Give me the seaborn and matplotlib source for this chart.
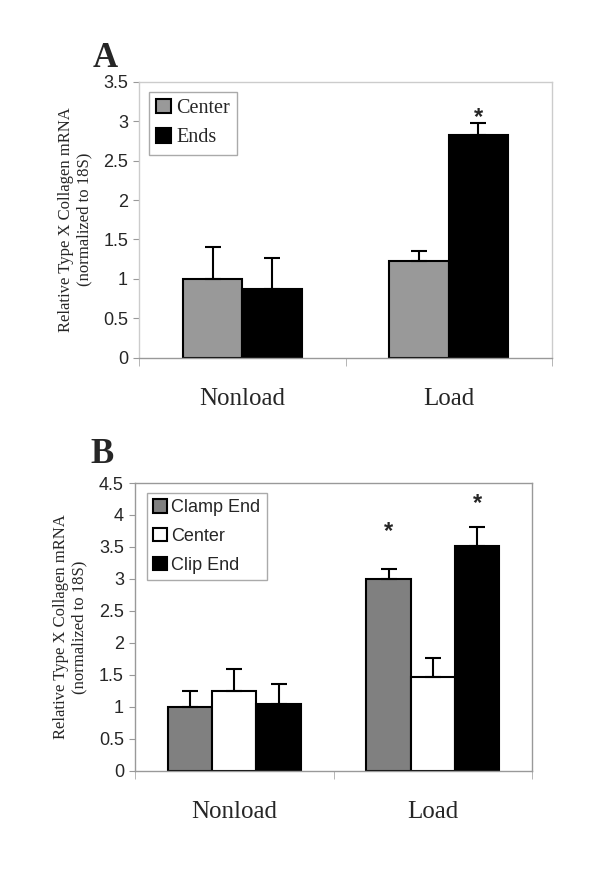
import matplotlib
matplotlib.use("Agg")
import matplotlib.pyplot as plt
import matplotlib.ticker as mticker
import pandas as pd
import seaborn as sns

sns.set_style("white")
plt.rcParams["font.family"] = ["Liberation Sans", "DejaVu Sans"]

# ---- data ----
groups = ["Nonload", "Load"]

a_series = ["Center", "Ends"]
a_means = {"Center": [1.00, 1.23], "Ends": [0.87, 2.82]}
a_errs = {"Center": [0.40, 0.13], "Ends": [0.40, 0.16]}
a_colors = ["#999999", "#000000"]
# height (data units) of the significance star, None = no star
a_stars = {"Ends": [None, 3.13]}

b_series = ["Clamp End", "Center", "Clip End"]
b_means = {"Clamp End": [1.00, 3.00], "Center": [1.25, 1.47], "Clip End": [1.04, 3.52]}
b_errs = {"Clamp End": [0.25, 0.16], "Center": [0.34, 0.29], "Clip End": [0.32, 0.30]}
b_colors = ["#808080", "#ffffff", "#000000"]
b_stars = {"Clamp End": [None, 3.85], "Clip End": [None, 4.28]}

ylabel = "Relative Type X Collagen mRNA\n(normalized to 18S)"
serif = ["Liberation Serif", "DejaVu Serif"]


def panel(ax, series, means, errs, colors, stars, width, ymax,
          frame_color, legend_font, legend_size, legend_anchor, spacing):
    df = pd.DataFrame(
        [(g, s, means[s][i]) for s in series for i, g in enumerate(groups)],
        columns=["group", "series", "value"],
    )
    sns.barplot(data=df, x="group", y="value", hue="series", order=groups,
                hue_order=series, palette=colors, width=width, gap=0,
                errorbar=None, edgecolor="black", linewidth=1.5,
                saturation=1, ax=ax)

    # upper error bars + significance stars
    for s, cont in zip(series, ax.containers):
        for i, bar in enumerate(cont):
            x = bar.get_x() + bar.get_width() / 2
            h = bar.get_height()
            ax.errorbar([x], [h], yerr=[[0], [errs[s][i]]], fmt="none",
                        ecolor="black", elinewidth=1.5, capsize=6,
                        capthick=1.5, zorder=3)
            star = stars.get(s, [None, None])[i]
            if star is not None:
                ax.annotate("*", (x, star), xytext=(0, -13),
                            textcoords="offset pixels", ha="center",
                            va="baseline", fontsize=17, fontweight="bold")

    ax.set_ylim(0, ymax)
    ax.set_xlim(-0.5, 1.5)
    ax.yaxis.set_major_locator(mticker.MultipleLocator(0.5))
    ax.yaxis.set_major_formatter(mticker.FormatStrFormatter("%g"))
    ax.tick_params(axis="y", labelsize=13, length=4, color="#999999",
                   direction="out", left=True, pad=4)
    ax.set_xticks([-0.5, 0.5, 1.5], minor=True)
    ax.tick_params(axis="x", which="minor", length=6, color="#aaaaaa",
                   direction="out", bottom=True)
    ax.tick_params(axis="x", which="major", length=0, pad=22)
    for lab in ax.get_xticklabels():
        lab.set_fontfamily(serif)
        lab.set_fontsize(18)
    ax.set_xlabel("")
    ax.set_ylabel(ylabel, fontfamily=serif, fontsize=12, labelpad=8)
    for sp in ax.spines.values():
        sp.set_visible(True)
        sp.set_color(frame_color)
        sp.set_linewidth(1.0)
    ax.spines["bottom"].set_color("#999999")

    handles, labels = ax.get_legend_handles_labels()
    ax.legend(handles, labels, loc="upper left", bbox_to_anchor=legend_anchor,
              borderaxespad=0,
              prop={"family": legend_font, "size": legend_size},
              handlelength=0.75, handleheight=0.75, handletextpad=0.25,
              borderpad=0.35, labelspacing=spacing, fancybox=False,
              edgecolor="#aaaaaa", framealpha=1)
    ax.get_legend().get_frame().set_linewidth(1.0)


fig = plt.figure(figsize=(6, 8.75), dpi=100)
ax_a = fig.add_axes([0.232, 0.591, 0.688, 0.3157])
ax_b = fig.add_axes([0.225, 0.119, 0.662, 0.329])

panel(ax_a, a_series, a_means, a_errs, a_colors, a_stars, width=0.575,
      ymax=3.5, frame_color="#cccccc",
      legend_font=serif, legend_size=14.5, legend_anchor=(0.024, 0.964),
      spacing=0.5)
panel(ax_b, b_series, b_means, b_errs, b_colors, b_stars, width=0.67,
      ymax=4.5, frame_color="#999999",
      legend_font=["Liberation Sans", "DejaVu Sans"], legend_size=13,
      legend_anchor=(0.03, 0.965), spacing=0.65)

fig.text(0.155, 0.933, "A", fontfamily=serif, fontsize=25, fontweight="bold",
         ha="left", va="center")
fig.text(0.15, 0.481, "B", fontfamily=serif, fontsize=25, fontweight="bold",
         ha="left", va="center")

fig.savefig("out.png", dpi=100)
